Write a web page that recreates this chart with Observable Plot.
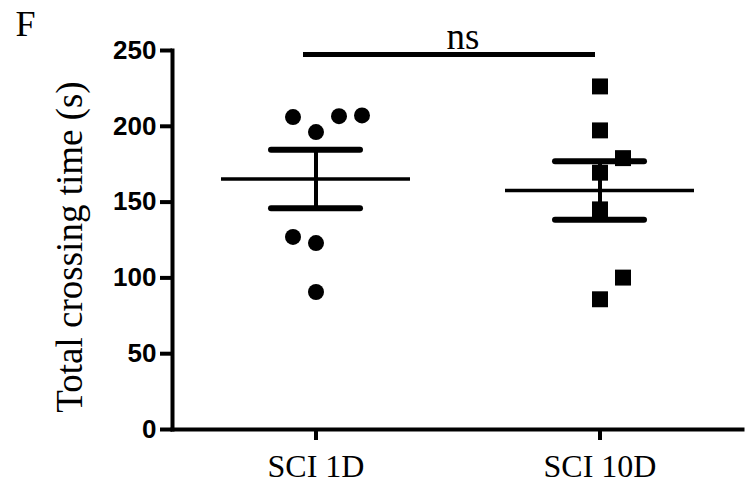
<!DOCTYPE html>
<html><head><meta charset="utf-8">
<script src="https://cdn.jsdelivr.net/npm/d3@7"></script>
<script src="https://cdn.jsdelivr.net/npm/@observablehq/plot@0.6"></script>
<style>body{margin:0;background:#fff}</style>
</head><body><div id="chart"></div>
<script>
// ---- data ----
const groups = ["SCI 1D", "SCI 10D"];
const sci1dValues = [206.1, 196.2, 206.7, 207.2, 127.0, 123.0, 90.7];
const sci1dSlots  = [-1, 0, 1, 2, -1, 0, 0];      // scatter column of each point
const sci10dValues = [226.3, 197.3, 179.0, 169.4, 145.2, 100.2, 85.9];
const sci10dSlots  = [0, 0, 1, 0, 0, 1, 0];
const means = [165.3, 157.6];
const sems = [19.3, 19.3];
const yTicks = [0, 50, 100, 150, 200, 250];
const sigPair = ["SCI 1D", "SCI 10D"];
const sigY = [247.4];
const sigLabel = ["ns"];
const panelLabel = ["F"];
const yTitle = ["Total crossing time (s)"];

// ---- tables built from the arrays ----
const points = [
  ...sci1dValues.map((v, i) => ({group: groups[0], value: v, slot: sci1dSlots[i]})),
  ...sci10dValues.map((v, i) => ({group: groups[1], value: v, slot: sci10dSlots[i]}))
];
const summary = groups.map((g, i) => ({group: g, mean: means[i], lo: means[i] - sems[i], hi: means[i] + sems[i]}));
const sig = sigY.map((y, i) => ({y, from: sigPair[0], to: sigPair[1]}));

const serif = "'Liberation Serif', 'Times New Roman', serif";
const sans = "'Liberation Sans', Arial, sans-serif";
const SLOT = 23;

const dotMarks = [];
groups.forEach((g, gi) => {
  for (const s of [-1, 0, 1, 2]) {
    const d = points.filter(p => p.group === g && p.slot === s);
    if (!d.length) continue;
    dotMarks.push(Plot.dot(d, {
      x: "group", y: "value", dx: s * SLOT,
      symbol: gi === 0 ? "circle" : "square",
      r: gi === 0 ? 8 : 9, fill: "black", stroke: "none"
    }));
  }
});

const chart = Plot.plot({
  width: 756, height: 497,
  marginLeft: 172, marginRight: 14, marginTop: 50, marginBottom: 68,
  x: {type: "band", domain: groups, paddingInner: 0.335, paddingOuter: 0.168},
  y: {domain: [0, 250]},
  style: {background: "white", color: "black"},
  marks: [
    Plot.axisY({ticks: yTicks, tickSize: 12, tickPadding: 4, strokeWidth: 4, fontSize: 26, fontWeight: "bold", fontFamily: sans, label: null}),
    Plot.axisX({tickSize: 11, tickPadding: 14, strokeWidth: 4, fontSize: 32, fontFamily: serif, label: null}),
    Plot.frame({anchor: "left", strokeWidth: 4, strokeLinecap: "square"}),
    Plot.frame({anchor: "bottom", strokeWidth: 4, strokeLinecap: "square"}),
    Plot.tickY(summary, {x: "group", y: "mean", strokeWidth: 3.5}),
    Plot.tickY(summary, {x: "group", y: "hi", insetLeft: 50, insetRight: 50, strokeWidth: 6, strokeLinecap: "round"}),
    Plot.tickY(summary, {x: "group", y: "lo", insetLeft: 50, insetRight: 50, strokeWidth: 6, strokeLinecap: "round"}),
    Plot.ruleX(summary, {x: "group", y1: "lo", y2: "hi", strokeWidth: 4}),
    ...dotMarks,
    Plot.ruleY(sig, {y: "y", x1: "from", x2: "to", insetLeft: 82, insetRight: 99, strokeWidth: 5}),
    Plot.text(sigLabel, {frameAnchor: "top", dx: 5.5, dy: -2, lineAnchor: "bottom", fontSize: 37, fontFamily: serif}),
    Plot.text(panelLabel, {frameAnchor: "top-left", dx: -157, dy: -15, textAnchor: "start", lineAnchor: "bottom", fontSize: 36, fontFamily: serif}),
    Plot.text(yTitle, {frameAnchor: "left", rotate: -90, dx: -91, dy: 7, textAnchor: "middle", lineAnchor: "bottom", fontSize: 37, fontFamily: serif})
  ]
});
document.getElementById("chart").appendChild(chart);
</script>
</body></html>
